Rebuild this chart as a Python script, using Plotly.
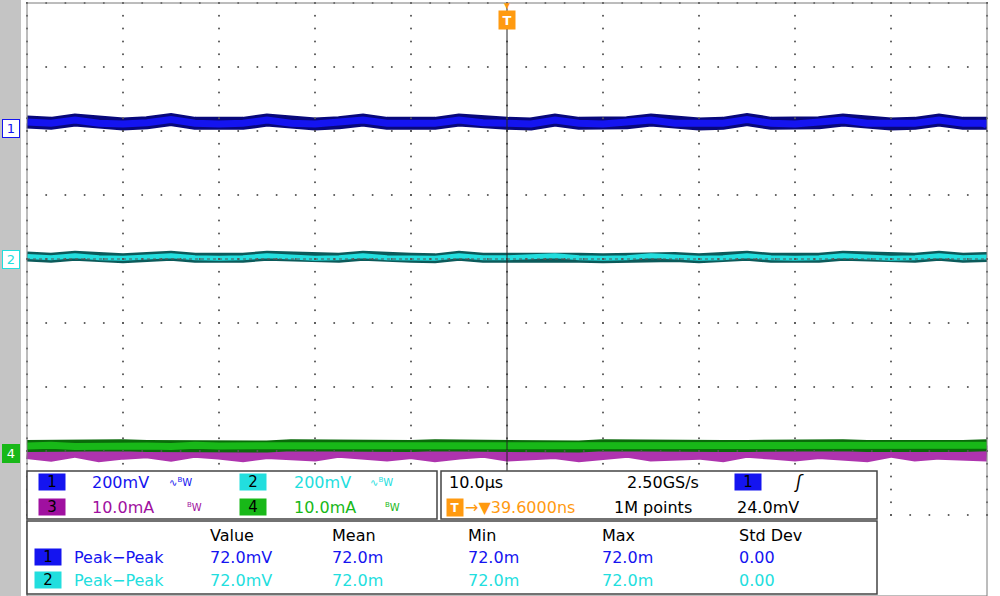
import plotly.graph_objects as go

# horizontal position in divisions (10 div across), sampled every 0.25 div
time_div = [i * 0.25 for i in range(41)]

# channel levels in divisions (0 = bottom of 8 div screen)
ch1_level = [6.14, 6.12, 6.17, 6.12, 6.11, 6.13, 6.18, 6.12, 6.11, 6.12, 6.17, 6.12, 6.11,
             6.13, 6.17, 6.12, 6.11, 6.12, 6.17, 6.13, 6.12, 6.11, 6.17, 6.12, 6.11, 6.13,
             6.17, 6.12, 6.11, 6.12, 6.18, 6.12, 6.11, 6.13, 6.17, 6.12, 6.11, 6.12, 6.17,
             6.12, 6.12]
ch2_level = [4.04, 4.02, 4.05, 4.02, 4.01, 4.03, 4.05, 4.02, 4.01, 4.02, 4.05, 4.03, 4.01,
             4.02, 4.05, 4.02, 4.02, 4.01, 4.05, 4.02, 4.02, 4.03, 4.05, 4.02, 4.01, 4.02,
             4.05, 4.03, 4.01, 4.02, 4.05, 4.02, 4.01, 4.02, 4.05, 4.03, 4.01, 4.02, 4.05,
             4.02, 4.03]
ch3_level = [1.00, 0.96, 1.02, 0.95, 0.99, 1.01, 0.96, 1.02, 0.99, 0.95, 1.00, 0.98, 0.96,
             1.02, 0.99, 0.96, 1.00, 0.95, 0.99, 1.02, 0.96, 0.99, 1.00, 0.95, 0.99, 1.02,
             0.96, 1.00, 0.99, 0.95, 1.02, 0.99, 0.96, 1.00, 0.99, 0.95, 1.02, 0.96, 0.99,
             1.00, 0.96]
ch4_level = [1.08, 1.09, 1.07, 1.08, 1.09, 1.08, 1.07, 1.09, 1.08, 1.08, 1.07, 1.09, 1.08,
             1.08, 1.09, 1.07, 1.08, 1.09, 1.08, 1.07, 1.08, 1.09, 1.08, 1.07, 1.09, 1.08,
             1.08, 1.07, 1.09, 1.08, 1.08, 1.09, 1.07, 1.08, 1.09, 1.08, 1.07, 1.09, 1.08,
             1.08, 1.09]

meas_headers = ["Value", "Mean", "Min", "Max", "Std Dev"]
meas_ch1 = ["72.0mV", "72.0m", "72.0m", "72.0m", "0.00"]
meas_ch2 = ["72.0mV", "72.0m", "72.0m", "72.0m", "0.00"]

BLUE, CYAN, PURPLE, GREEN, ORANGE = "#1414f0", "#22dede", "#a010a0", "#18b818", "#ff9a10"
FONT = "DejaVu Sans"


# pixel -> data helpers (margins are zero, axes span the whole window)
def px(x):
    return (x - 27) / 96.0


def py(y):
    return 8 - (y - 3) / 64.0


fig = go.Figure()

# traces
fig.add_trace(go.Scatter(x=time_div, y=ch3_level, mode="lines",
                         line=dict(color=PURPLE, width=16), opacity=0.85))
fig.add_trace(go.Scatter(x=time_div, y=ch4_level, mode="lines",
                         line=dict(color="#0a6a0a", width=12)))
fig.add_trace(go.Scatter(x=time_div, y=ch4_level, mode="lines",
                         line=dict(color=GREEN, width=7)))
fig.add_trace(go.Scatter(x=time_div, y=ch2_level, mode="lines",
                         line=dict(color="#0b5a5a", width=10)))
fig.add_trace(go.Scatter(x=time_div, y=ch2_level, mode="lines",
                         line=dict(color=CYAN, width=5)))
fig.add_trace(go.Scatter(x=time_div, y=ch1_level, mode="lines",
                         line=dict(color="#08087a", width=13)))
fig.add_trace(go.Scatter(x=time_div, y=ch1_level, mode="lines",
                         line=dict(color=BLUE, width=7)))

# graticule dots
gx, gy = [], []
for i in range(11):
    for k in range(41):
        gx.append(i); gy.append(k * 0.2)
for j in range(9):
    for k in range(51):
        gx.append(k * 0.2); gy.append(j)
fig.add_trace(go.Scatter(x=gx, y=gy, mode="markers",
                         marker=dict(size=2, color="#555555"), hoverinfo="skip"))

shapes = []
# left gray strip
shapes.append(dict(type="rect", x0=px(0), x1=px(21), y0=py(596), y1=py(0),
                   fillcolor="#c4c4c4", line=dict(width=0), layer="below"))
# frame and centre lines
shapes.append(dict(type="rect", x0=0, x1=10, y0=py(596), y1=8,
                   line=dict(color="#7a7a7a", width=1)))
shapes.append(dict(type="line", x0=5, x1=5, y0=0, y1=8, line=dict(color="#222222", width=1)))
shapes.append(dict(type="line", x0=0, x1=10, y0=4, y1=4, line=dict(color="#555555", width=1, dash="dot")))


def panel(x0, y0, x1, y1):
    shapes.append(dict(type="rect", x0=px(x0), x1=px(x1), y0=py(y1), y1=py(y0),
                       fillcolor="white", line=dict(color="#444444", width=1.5)))


panel(27, 471, 437, 519)
panel(441, 471, 877, 519)
panel(27, 521, 877, 594)
fig.update_layout(shapes=shapes)


def text(x, y, s, color="black", size=16, anchor="left"):
    fig.add_annotation(x=px(x), y=py(y), text=s, showarrow=False, xanchor=anchor,
                       yanchor="middle", font=dict(family=FONT, size=size, color=color))


def badge(x, y, s, bg, fg="black", w=26):
    fig.add_annotation(x=px(x), y=py(y), text=s, showarrow=False, xanchor="center",
                       yanchor="middle", bgcolor=bg, borderpad=0, width=w, height=16,
                       font=dict(family=FONT, size=15, color=fg))


# left channel markers
for yy, s, c in [(128, "1", BLUE), (259, "2", CYAN), (453, "4", GREEN)]:
    fig.add_annotation(x=px(11), y=py(yy), text=s, showarrow=False, width=14, height=15,
                       bgcolor="white" if s != "4" else GREEN, bordercolor=c, borderwidth=1,
                       font=dict(family=FONT, size=13, color=c if s != "4" else "white"))
# trigger level marker right
fig.add_annotation(x=px(982), y=py(123), text="◀", showarrow=False,
                   font=dict(size=10, color=BLUE))
# trigger position marker top
fig.add_annotation(x=5, y=py(5), text="▼", showarrow=False, font=dict(size=10, color=ORANGE))
fig.add_annotation(x=5, y=py(20), text="<b>T</b>", showarrow=False, bgcolor=ORANGE,
                   width=14, height=16, font=dict(family=FONT, size=13, color="white"))

# channel settings panel
badge(52, 482, "1", BLUE)
text(90, 482, "200mV", BLUE)
text(167, 482, "∿<sup>B</sup>W", BLUE, 10)
badge(253, 482, "2", CYAN)
text(292, 482, "200mV", CYAN)
text(368, 482, "∿<sup>B</sup>W", CYAN, 10)
badge(52, 507, "3", PURPLE)
text(90, 507, "10.0mA", PURPLE)
text(185, 507, "<sup>B</sup>W", PURPLE, 10)
badge(253, 507, "4", GREEN)
text(292, 507, "10.0mA", GREEN)
text(383, 507, "<sup>B</sup>W", GREEN, 10)

# timebase panel
text(447, 482, "10.0µs")
text(625, 482, "2.50GS/s")
badge(748, 482, "1", BLUE)
text(792, 482, "<i>ʃ</i>", "black", 17)
fig.add_annotation(x=px(455), y=py(507), text="<b>T</b>", showarrow=False, bgcolor=ORANGE,
                   width=14, height=15, font=dict(family=FONT, size=12, color="white"))
text(463, 507, "→▼39.6000ns", ORANGE)
text(612, 507, "1M points")
text(735, 507, "24.0mV")

# measurement panel
cols = [208, 330, 466, 600, 737]
for cx, h in zip(cols, meas_headers):
    text(cx, 535, h)
badge(48, 557, "1", BLUE)
text(72, 557, "Peak−Peak", BLUE)
badge(48, 580, "2", CYAN)
text(72, 580, "Peak−Peak", CYAN)
for cx, a, b in zip(cols, meas_ch1, meas_ch2):
    text(cx, 557, a, BLUE)
    text(cx, 580, b, CYAN)

fig.update_layout(
    width=1000, height=596, margin=dict(l=0, r=0, t=0, b=0),
    paper_bgcolor="white", plot_bgcolor="white", showlegend=False,
    xaxis=dict(range=[px(0), px(1000)], visible=False, fixedrange=True),
    yaxis=dict(range=[py(596), py(0)], visible=False, fixedrange=True),
)

fig.write_html("out.html", config={"displayModeBar": False},
               post_script="document.body.style.margin='0';document.body.style.overflow='hidden';")
